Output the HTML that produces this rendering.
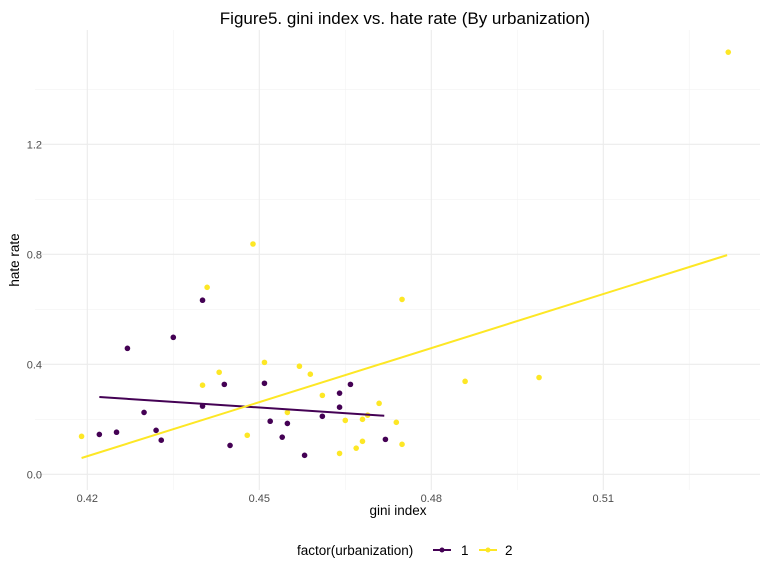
<!DOCTYPE html>
<html><head><meta charset="utf-8"><style>
body{margin:0;background:#fff;font-family:"Liberation Sans",Arial,sans-serif;}
svg text{font-family:"Liberation Sans",Arial,sans-serif;}
</style></head><body>
<svg id="chart" width="768" height="576" xmlns="http://www.w3.org/2000/svg">
<g id="grid"></g>
<g id="marks"></g>
<g id="axes"></g>
<text x="405" y="24" text-anchor="middle" font-size="17" fill="#000">Figure5. gini index vs. hate rate (By urbanization)</text>
<text x="398" y="515" text-anchor="middle" font-size="13.5" fill="#000">gini index</text>
<text transform="translate(19,260) rotate(-90)" text-anchor="middle" font-size="13.5" fill="#000">hate rate</text>
<g>
<text x="297" y="555" font-size="13.5" fill="#000">factor(urbanization)</text>
<g><line x1="433" y1="550" x2="451" y2="550" stroke="#440154" stroke-width="2"/><circle cx="442" cy="550" r="2.5" fill="#440154"/><text x="461" y="555" font-size="13.5" fill="#000">1</text></g>
<g><line x1="479" y1="550" x2="497" y2="550" stroke="#FDE725" stroke-width="2"/><circle cx="488" cy="550" r="2.5" fill="#FDE725"/><text x="505" y="555" font-size="13.5" fill="#000">2</text></g>
</g>
</svg>
<script>
const xTicks=[0.42,0.45,0.48,0.51];
const xTickLabels=["0.42","0.45","0.48","0.51"];
const yTicks=[0.0,0.4,0.8,1.2];
const yTickLabels=["0.0","0.4","0.8","1.2"];
const g1x=[0.4401,0.4270,0.4350,0.4439,0.4509,0.4401,0.4299,0.4221,0.4251,0.4320,0.4329,0.4449,0.4519,0.4549,0.4540,0.4579,0.4610,0.4640,0.4640,0.4659,0.4720];
const g1y=[0.633,0.458,0.498,0.327,0.331,0.248,0.225,0.145,0.153,0.160,0.124,0.105,0.193,0.185,0.135,0.069,0.211,0.295,0.244,0.327,0.127];
const g2x=[0.4409,0.4749,0.4430,0.4401,0.4509,0.4570,0.4589,0.4610,0.4549,0.4709,0.4190,0.4479,0.4650,0.4680,0.4689,0.4739,0.4680,0.4669,0.4640,0.4749,0.4489,0.4859,0.4988,0.5318];
const g2y=[0.680,0.636,0.371,0.324,0.407,0.393,0.364,0.287,0.225,0.258,0.138,0.142,0.196,0.200,0.215,0.189,0.120,0.095,0.076,0.109,0.8375,0.338,0.352,1.535];
const fit1x=[0.4221,0.4718], fit1y=[0.281,0.213];
const fit2x=[0.4190,0.5316], fit2y=[0.0593,0.797];

const X=v=>87.3+(v-0.42)*5733;
const Y=v=>474.3-v*275;
const L=35,R=760,T=30,B=490;
const NS="http://www.w3.org/2000/svg";
function mk(tag,attrs,parent){const e=document.createElementNS(NS,tag);for(const k in attrs)e.setAttribute(k,attrs[k]);parent.appendChild(e);return e;}
const grid=document.getElementById('grid'),marks=document.getElementById('marks'),axes=document.getElementById('axes');
// minor grid
for(let i=0;i<xTicks.length;i++){const m=xTicks[i]+0.015;const l=mk('line',{x1:X(m),x2:X(m),y1:T,y2:B,stroke:'#f2f2f2','stroke-width':0.6},grid);
}
for(let i=0;i<yTicks.length;i++){const m=yTicks[i]+0.2;const l=mk('line',{x1:L,x2:R,y1:Y(m),y2:Y(m),stroke:'#f2f2f2','stroke-width':0.6},grid);
}
xTicks.forEach((t,i)=>{const l=mk('line',{x1:X(t),x2:X(t),y1:T,y2:B,stroke:'#ebebeb','stroke-width':1.1},grid);

const tx=mk('text',{x:X(t),y:502,'text-anchor':'middle','font-size':11,fill:'#4d4d4d'},axes);tx.textContent=xTickLabels[i];
});
yTicks.forEach((t,i)=>{const l=mk('line',{x1:L,x2:R,y1:Y(t),y2:Y(t),stroke:'#ebebeb','stroke-width':1.1},grid);

const tx=mk('text',{x:42,y:Y(t)+4,'text-anchor':'end','font-size':11,fill:'#4d4d4d'},axes);tx.textContent=yTickLabels[i];
});
function pts(xs,ys,col,name){xs.forEach((v,i)=>{const c=mk('circle',{cx:X(v),cy:Y(ys[i]),r:2.8,fill:col},marks);
});}
function fit(xs,ys,col,name){const l=mk('line',{x1:X(xs[0]),y1:Y(ys[0]),x2:X(xs[1]),y2:Y(ys[1]),stroke:col,'stroke-width':2},marks);
}
pts(g1x,g1y,'#440154','point-group-1');
pts(g2x,g2y,'#FDE725','point-group-2');
fit(fit1x,fit1y,'#440154','fit-line-group-1');
fit(fit2x,fit2y,'#FDE725','fit-line-group-2');
</script>
</body></html>
